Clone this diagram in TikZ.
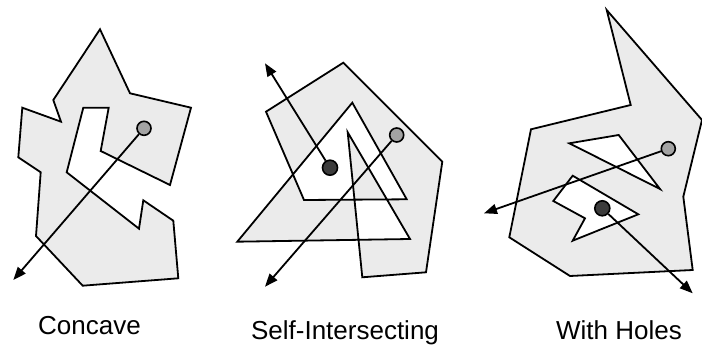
\documentclass[tikz,border=0pt]{standalone}
\usepackage{fontspec}
\setmainfont{Liberation Sans}
\usetikzlibrary{arrows.meta}
\definecolor{polyfill}{HTML}{EBEBEB}
\definecolor{lightdot}{HTML}{A3A3A3}
\definecolor{darkdot}{HTML}{3C3C3C}
\tikzset{
  poly/.style={draw=black, fill=polyfill, line width=1.8pt, even odd rule, line join=miter},
  hole/.style={draw=black, fill=white, line width=1.8pt},
  dotl/.style={circle, draw=black, fill=lightdot, line width=1.6pt, minimum size=14pt, inner sep=0pt},
  dotd/.style={circle, draw=black, fill=darkdot, line width=1.6pt, minimum size=15pt, inner sep=0pt},
  ray/.style={line width=1.8pt, -{Triangle[length=13pt,width=10pt]}},
  lbl/.style={anchor=base, inner sep=0pt, font=\fontsize{26}{30}\selectfont}
}
\begin{document}
\begin{tikzpicture}[x=1pt,y=-1pt]
\useasboundingbox (0,0) rectangle (702,347);
% ---------- Concave ----------
\filldraw[poly] (100,29.3) -- (130,93.3) -- (191,107.7) -- (170,185) -- (100.7,151) -- (108.7,107.7)
  -- (83.3,107.7) -- (66.7,172.3) -- (139,228.7) -- (143.3,200.3) -- (173.3,220.7) -- (178.3,278.3)
  -- (82.7,285.7) -- (36,236) -- (40.7,172.3) -- (18.3,157.3) -- (22.3,107.7) -- (61,121.7)
  -- (53.3,100) -- cycle;
\coordinate (t1) at (13.3,280);
\node[dotl] (c1) at (144,128.3) {};
\draw[ray] (c1) -- (t1);
% ---------- Self-Intersecting ----------
\filldraw[poly] (343.3,62.7) -- (442.3,161.7) -- (426,272.3) -- (362.3,277.3) -- (347.7,132.3)
  -- (410,239) -- (237.3,241.7) -- (352.3,102.7) -- (406.7,199.3) -- (304,200) -- (266,111.7) -- cycle;
\coordinate (t2) at (265,63.3);
\coordinate (t3) at (265,286.7);
\node[dotd] (c2) at (330,167.7) {};
\node[dotl] (c3) at (396.7,135) {};
\draw[ray] (c2) -- (t2);
\draw[ray] (c3) -- (t3);
% ---------- With Holes ----------
\filldraw[poly] (606.7,10) -- (702,120) -- (683.3,196.7) -- (692.7,270) -- (570,276) -- (509.3,237.3)
  -- (531,129.3) -- (630.7,105) -- cycle;
\filldraw[hole] (569.3,143.3) -- (618.7,135) -- (660,189) -- cycle;
\filldraw[hole] (572.7,175.7) -- (638.3,214.3) -- (572.7,240.7) -- (585,218.3) -- (553.3,201) -- cycle;
\coordinate (t4) at (484,213.3);
\coordinate (t5) at (692.7,293.3);
\node[dotl] (c4) at (668.3,148.7) {};
\node[dotd] (c5) at (602.3,208.3) {};
\draw[ray] (c4) -- (t4);
\draw[ray] (c5) -- (t5);
% ---------- Labels ----------
\node[lbl] (l1) at (89.5,335) {Concave};
\node[lbl] (l2) at (345,339.3) {Self-Intersecting};
\node[lbl] (l3) at (619,339.3) {With Holes};
\end{tikzpicture}
\end{document}
